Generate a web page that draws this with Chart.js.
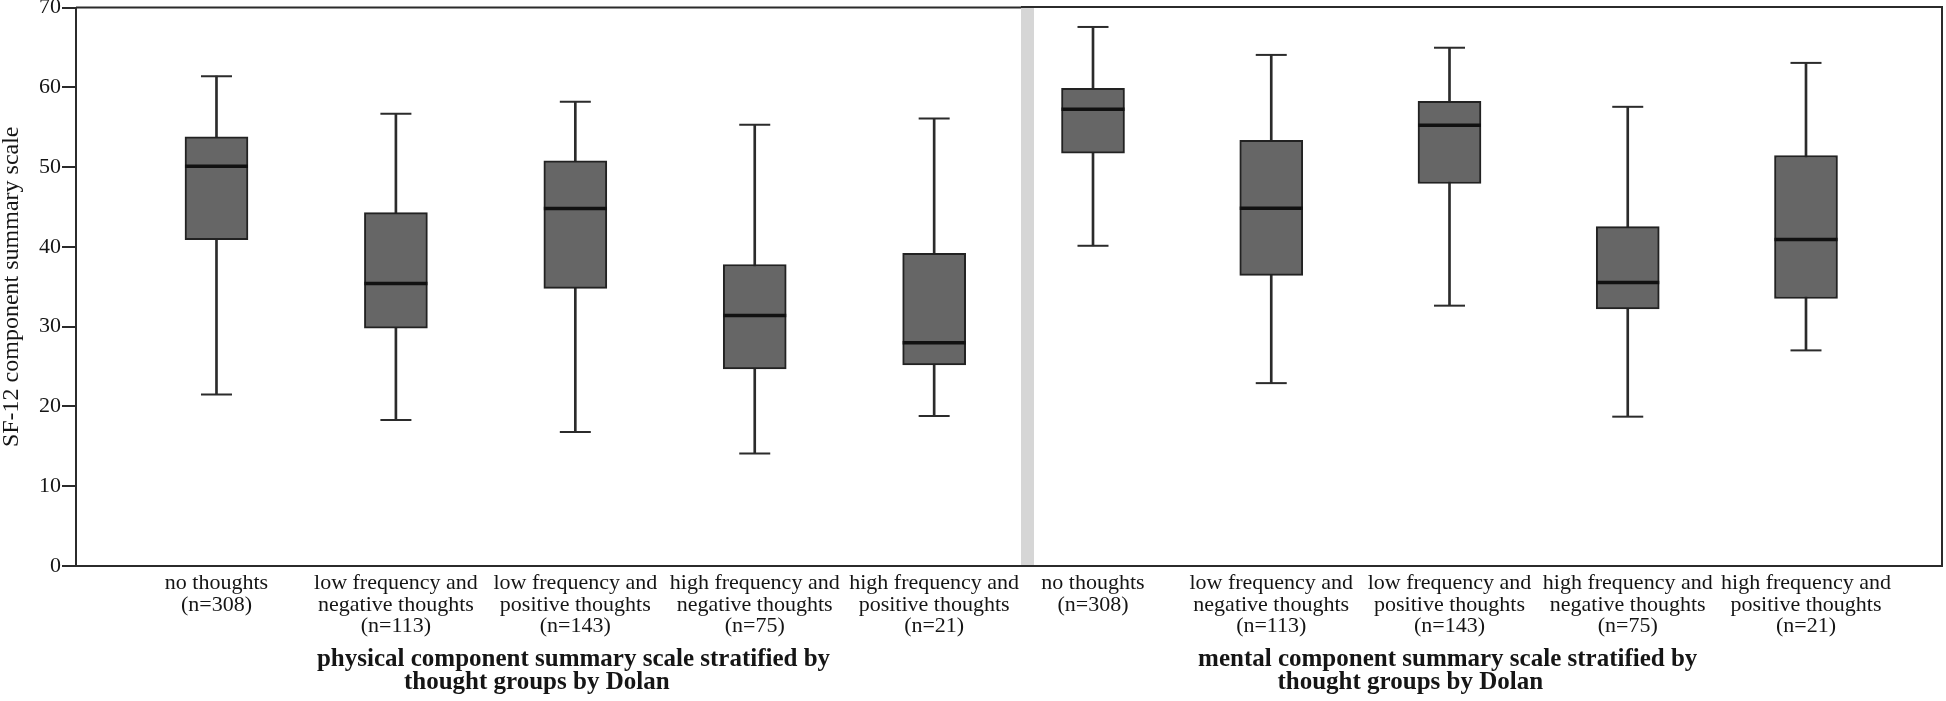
<!DOCTYPE html>
<html>
<head>
<meta charset="utf-8">
<title>SF-12 component summary scale by thought groups</title>
<script src="https://cdn.jsdelivr.net/npm/chart.js@4.4.0/dist/chart.umd.min.js"></script>
<style>
    html, body { margin: 0; padding: 0; background: #ffffff; }
    #wrap { position: relative; width: 1946px; height: 701px; }
    .panel { position: absolute; top: 0; height: 701px; }
    #panel-phys { left: 0; width: 1021px; }
    #panel-ment { left: 1021px; width: 925px; }
</style>
</head>
<body>
<div id="wrap">
    <div class="panel" id="panel-phys"><canvas id="chart-phys"></canvas></div>
    <div class="panel" id="panel-ment"><canvas id="chart-ment"></canvas></div>
</div>
<script>
// Thought groups (same for both panels)
const GROUP_LABELS = [
    ['no thoughts', '(n=308)'],
    ['low frequency and', 'negative thoughts', '(n=113)'],
    ['low frequency and', 'positive thoughts', '(n=143)'],
    ['high frequency and', 'negative thoughts', '(n=75)'],
    ['high frequency and', 'positive thoughts', '(n=21)']
];

const Y_TICKS = [0, 10, 20, 30, 40, 50, 60, 70];
const Y_TITLE = 'SF-12 component summary scale';

// Physical component summary scale
const PHYS_TITLE = ['physical component summary scale stratified by', 'thought groups by Dolan'];
const PHYS_MIN = [21.5, 18.3, 16.8, 14.1, 18.8];
const PHYS_Q1  = [40.9, 29.8, 34.8, 24.7, 25.2];
const PHYS_MED = [50.1, 35.4, 44.8, 31.4, 28.0];
const PHYS_Q3  = [53.8, 44.3, 50.8, 37.8, 39.2];
const PHYS_MAX = [61.4, 56.7, 58.2, 55.3, 56.1];

// Mental component summary scale
const MENT_TITLE = ['mental component summary scale stratified by', 'thought groups by Dolan'];
const MENT_MIN = [40.1, 22.9, 32.6, 18.7, 27.0];
const MENT_Q1  = [51.7, 36.4, 47.9, 32.2, 33.5];
const MENT_MED = [57.2, 44.8, 55.2, 35.5, 40.9];
const MENT_Q3  = [59.8, 53.3, 58.2, 42.5, 51.4];
const MENT_MAX = [67.5, 64.0, 64.9, 57.5, 63.0];

// Styles
const FONT = "'Liberation Serif', 'Times New Roman', serif";
const TEXT_COLOR = '#151515';
const LINE_COLOR = '#2b2b2b';
const BOX_FILL = '#666666';

// Frame lines (top / right) and the grey gutter between the two panels
const panelFrame = {
    id: 'panelFrame',
    beforeDatasetsDraw(chart, args, opts) {
        const { ctx, chartArea: a } = chart;
        const gutter = opts.gutter || 0;
        ctx.save();
        if (gutter) {
            ctx.fillStyle = '#d6d6d6';
            ctx.fillRect(a.left - gutter, a.top, gutter, a.bottom - a.top);
        }
        ctx.strokeStyle = LINE_COLOR;
        ctx.lineWidth = 2;
        ctx.beginPath();
        ctx.moveTo(a.left - gutter, a.top);
        ctx.lineTo(a.right, a.top);
        if (opts.right) {
            ctx.lineTo(a.right, a.bottom);
        }
        if (gutter) {
            ctx.moveTo(a.left - gutter, a.bottom);
            ctx.lineTo(a.left, a.bottom);
        }
        ctx.stroke();
        ctx.restore();
    }
};

// Bold two-line group title under the category labels
const groupTitle = {
    id: 'groupTitle',
    afterDraw(chart, args, opts) {
        const { ctx, chartArea: a, scales } = chart;
        ctx.save();
        ctx.font = 'bold ' + opts.size + 'px ' + FONT;
        ctx.fillStyle = TEXT_COLOR;
        ctx.textAlign = 'center';
        ctx.textBaseline = 'middle';
        opts.text.forEach((line, i) => {
            const x = scales.x.getPixelForValue(opts.at[i]);
            ctx.fillText(line, x, a.bottom + opts.offset + i * opts.lineGap);
        });
        ctx.restore();
    }
};

// Build the box plot datasets from the five summary arrays
function boxDatasets(min, q1, med, q3, max) {
    const idx = GROUP_LABELS.map((g, i) => i);
    return [
        {   // median line
            type: 'scatter',
            data: idx.map(i => ({ x: i, y: med[i] })),
            pointStyle: 'line',
            pointRadius: 31.5,
            pointHoverRadius: 31.5,
            borderColor: '#111111',
            borderWidth: 3.5
        },
        {   // whisker caps
            type: 'scatter',
            data: idx.map(i => ({ x: i, y: min[i] })).concat(idx.map(i => ({ x: i, y: max[i] }))),
            pointStyle: 'line',
            pointRadius: 15.5,
            pointHoverRadius: 15.5,
            borderColor: LINE_COLOR,
            borderWidth: 2
        },
        {   // box q1..q3
            type: 'bar',
            data: idx.map(i => ({ x: i, y: [q1[i], q3[i]] })),
            backgroundColor: BOX_FILL,
            borderColor: '#222222',
            borderWidth: 2,
            borderSkipped: false,
            barThickness: 63,
            grouped: false
        },
        {   // whisker line min..max
            type: 'bar',
            data: idx.map(i => ({ x: i, y: [min[i], max[i]] })),
            backgroundColor: LINE_COLOR,
            borderWidth: 0,
            barThickness: 2,
            grouped: false
        }
    ];
}

function makePanel(canvasId, data, cfg) {
    const ctx = document.getElementById(canvasId);
    if (!ctx) return null;

    return new Chart(ctx, {
        type: 'bar',
        data: { datasets: data },
        options: {
            responsive: true,
            maintainAspectRatio: false,
            animation: false,
            layout: {
                autoPadding: false,
                padding: { top: 7, left: cfg.padLeft, right: cfg.padRight, bottom: 0 }
            },
            plugins: {
                legend: { display: false },
                tooltip: { enabled: false },
                panelFrame: { right: cfg.frameRight, gutter: cfg.gutter },
                groupTitle: { text: cfg.title, at: cfg.titleAt, offset: 94, lineGap: 23, size: 25 }
            },
            scales: {
                x: {
                    type: 'linear',
                    min: cfg.xMin,
                    max: cfg.xMax,
                    offset: false,
                    afterBuildTicks: scale => {
                        scale.ticks = GROUP_LABELS.map((g, i) => ({ value: i }));
                    },
                    afterFit: scale => { scale.height = 135; },
                    grid: { display: false, offset: false },
                    border: { display: true, color: LINE_COLOR, width: 2 },
                    ticks: {
                        autoSkip: false,
                        maxRotation: 0,
                        padding: -1,
                        color: TEXT_COLOR,
                        font: { family: FONT, size: 22, lineHeight: 0.97 },
                        callback: value => GROUP_LABELS[value] || ''
                    }
                },
                y: {
                    display: cfg.showY,
                    min: 0,
                    max: 70,
                    afterBuildTicks: scale => {
                        scale.ticks = Y_TICKS.map(v => ({ value: v }));
                    },
                    afterFit: scale => { scale.width = cfg.showY ? 76 : 0; },
                    grid: {
                        drawOnChartArea: false,
                        drawTicks: true,
                        tickLength: 14,
                        tickColor: LINE_COLOR,
                        lineWidth: 2
                    },
                    border: { display: true, color: LINE_COLOR, width: 2 },
                    ticks: {
                        padding: 1,
                        color: TEXT_COLOR,
                        font: { family: FONT, size: 22, lineHeight: 0.6 }
                    },
                    title: {
                        display: true,
                        text: Y_TITLE,
                        color: TEXT_COLOR,
                        padding: 0,
                        font: { family: FONT, size: 24, lineHeight: 1 }
                    }
                }
            }
        },
        plugins: [panelFrame, groupTitle]
    });
}

function initializeCharts() {
    if (typeof Chart === 'undefined') {
        console.error('Chart.js is not loaded');
        return;
    }

    makePanel('chart-phys',
        boxDatasets(PHYS_MIN, PHYS_Q1, PHYS_MED, PHYS_Q3, PHYS_MAX),
        { showY: true, padLeft: 0, padRight: 0, frameRight: false, gutter: 0,
          xMin: -0.783, xMax: 4.484, title: PHYS_TITLE, titleAt: [1.99, 1.785] });

    makePanel('chart-ment',
        boxDatasets(MENT_MIN, MENT_Q1, MENT_MED, MENT_Q3, MENT_MAX),
        { showY: false, padLeft: 13, padRight: 4, frameRight: true, gutter: 13,
          xMin: -0.331, xMax: 4.763, title: MENT_TITLE, titleAt: [1.99, 1.78] });
}

initializeCharts();
</script>
</body>
</html>
